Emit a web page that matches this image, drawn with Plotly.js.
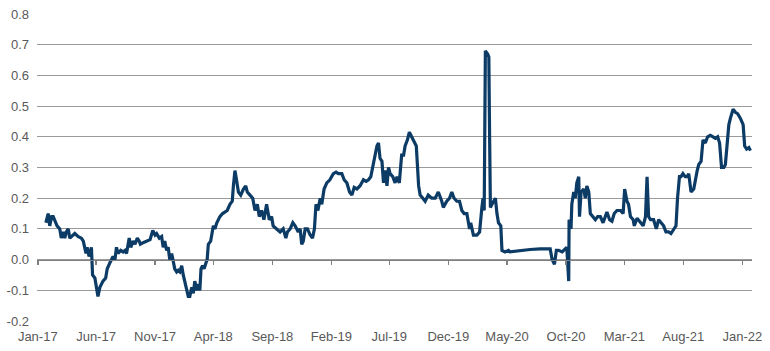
<!DOCTYPE html>
<html>
<head>
<meta charset="utf-8">
<script src="https://cdn.plot.ly/plotly-3.0.1.min.js"></script>
<style>html,body{margin:0;padding:0;background:#fff;}#chart{width:770px;height:351px;}</style>
</head>
<body>
<div id="chart"></div>
<script>
const dates = [
'2017-01-22','2017-01-28','2017-02-01','2017-02-06','2017-02-10','2017-02-14','2017-02-20','2017-02-27','2017-03-03','2017-03-08',
'2017-03-12','2017-03-16','2017-03-21','2017-03-25','2017-04-03','2017-04-07','2017-04-16','2017-04-24','2017-04-29','2017-05-06',
'2017-05-09','2017-05-14','2017-05-20','2017-05-23','2017-05-29','2017-06-02','2017-06-06','2017-06-11','2017-06-15','2017-06-19',
'2017-06-26','2017-06-30','2017-07-07','2017-07-11','2017-07-15','2017-07-20','2017-07-24','2017-07-28','2017-08-04','2017-08-10',
'2017-08-15','2017-08-19','2017-08-26','2017-08-30','2017-09-05','2017-09-10','2017-09-16','2017-09-21','2017-09-24','2017-10-01',
'2017-10-10','2017-10-19','2017-10-26','2017-11-01','2017-11-05','2017-11-12','2017-11-18','2017-11-22','2017-11-26','2017-12-01',
'2017-12-05','2017-12-09','2017-12-14','2017-12-18','2017-12-22','2017-12-27','2017-12-31','2018-01-04','2018-01-09','2018-01-13',
'2018-01-17','2018-01-22','2018-01-26','2018-01-30','2018-02-04','2018-02-08','2018-02-12','2018-02-17','2018-02-21','2018-02-25',
'2018-02-28','2018-03-04','2018-03-08','2018-03-13','2018-03-16','2018-03-19','2018-03-25','2018-04-01','2018-04-05','2018-04-10',
'2018-04-18','2018-04-25','2018-05-01','2018-05-07','2018-05-14','2018-05-20','2018-05-23','2018-05-27','2018-05-31','2018-06-05',
'2018-06-11','2018-06-18','2018-06-24','2018-06-28','2018-07-05','2018-07-12','2018-07-18','2018-07-24','2018-07-29','2018-08-04',
'2018-08-10','2018-08-17','2018-08-24','2018-08-30','2018-09-03','2018-09-12','2018-09-21','2018-09-29','2018-10-06','2018-10-10',
'2018-10-17','2018-10-24','2018-10-30','2018-11-07','2018-11-12','2018-11-16','2018-11-20','2018-11-25','2018-12-01','2018-12-08',
'2018-12-14','2018-12-19','2018-12-23','2018-12-28','2019-01-03','2019-01-07','2019-01-13','2019-01-20','2019-01-28','2019-02-06',
'2019-02-13','2019-02-19','2019-02-28','2019-03-06','2019-03-13','2019-03-20','2019-03-26','2019-04-01','2019-04-08','2019-04-16',
'2019-04-25','2019-05-02','2019-05-08','2019-05-14','2019-05-21','2019-05-25','2019-05-30','2019-06-03','2019-06-07','2019-06-12',
'2019-06-16','2019-06-20','2019-06-25','2019-06-29','2019-07-03','2019-07-10','2019-07-16','2019-07-21','2019-07-27','2019-08-02',
'2019-08-07','2019-08-11','2019-08-17','2019-08-22','2019-08-28','2019-09-03','2019-09-09','2019-09-15','2019-09-19','2019-09-26',
'2019-10-02','2019-10-10','2019-10-19','2019-10-28','2019-11-05','2019-11-14','2019-11-18','2019-11-27','2019-12-04','2019-12-10',
'2019-12-16','2019-12-23','2019-12-30','2020-01-05','2020-01-11','2020-01-18','2020-01-25','2020-01-28','2020-02-04','2020-02-13',
'2020-02-20','2020-02-26','2020-02-29','2020-03-03','2020-03-06','2020-03-12','2020-03-15','2020-03-17','2020-03-19','2020-03-23',
'2020-03-27','2020-04-01','2020-04-05','2020-04-09','2020-04-15','2020-04-18','2020-04-26','2020-05-05','2020-05-09','2020-06-04',
'2020-06-30','2020-07-26','2020-08-21','2020-08-26','2020-09-01','2020-09-06','2020-09-12','2020-09-21','2020-09-29','2020-10-03',
'2020-10-08','2020-10-09','2020-10-14','2020-10-16','2020-10-21','2020-10-25','2020-10-29','2020-11-03','2020-11-05','2020-11-09',
'2020-11-16','2020-11-20','2020-11-24','2020-11-29','2020-12-03','2020-12-10','2020-12-16','2020-12-22','2020-12-29','2021-01-05',
'2021-01-11','2021-01-15','2021-01-22','2021-01-28','2021-02-03','2021-02-10','2021-02-19','2021-02-26','2021-03-02','2021-03-08',
'2021-03-12','2021-03-17','2021-03-24','2021-03-27','2021-04-03','2021-04-12','2021-04-19','2021-04-25','2021-04-29','2021-05-03',
'2021-05-08','2021-05-16','2021-05-23','2021-05-29','2021-06-04','2021-06-11','2021-06-17','2021-06-24','2021-06-30','2021-07-07',
'2021-07-13','2021-07-17','2021-07-22','2021-07-26','2021-07-31','2021-08-06','2021-08-11','2021-08-15','2021-08-21','2021-08-28',
'2021-09-02','2021-09-06','2021-09-10','2021-09-16','2021-09-21','2021-09-27','2021-10-03','2021-10-10','2021-10-17','2021-10-23',
'2021-10-29','2021-11-03','2021-11-08','2021-11-14','2021-11-18','2021-11-23','2021-11-27','2021-12-01','2021-12-08','2021-12-14',
'2021-12-20','2021-12-27','2022-01-03','2022-01-07','2022-01-12','2022-01-18','2022-01-22'
];
const values = [
0.12,0.15,0.11,0.14,0.14,0.13,0.11,0.10,0.07,0.09,
0.07,0.09,0.10,0.07,0.08,0.085,0.075,0.07,0.06,0.02,
0.04,0.01,0.04,-0.05,-0.06,-0.09,-0.12,-0.09,-0.08,-0.07,
-0.06,-0.03,-0.01,0.00,0.01,0.00,0.04,0.02,0.03,0.025,
0.03,0.02,0.07,0.04,0.06,0.05,0.07,0.06,0.05,0.055,
0.06,0.065,0.095,0.08,0.085,0.07,0.075,0.04,0.06,0.03,
0.04,0.00,0.02,-0.01,-0.03,-0.04,-0.035,-0.04,-0.02,-0.05,
-0.07,-0.10,-0.12,-0.12,-0.09,-0.11,-0.07,-0.10,-0.08,-0.10,
-0.03,-0.02,-0.03,-0.01,0.00,0.05,0.06,0.11,0.10,0.12,
0.14,0.15,0.155,0.16,0.18,0.19,0.24,0.29,0.26,0.22,
0.21,0.23,0.24,0.22,0.21,0.20,0.16,0.18,0.14,0.16,
0.13,0.18,0.13,0.14,0.11,0.10,0.09,0.10,0.07,0.09,
0.10,0.12,0.11,0.09,0.10,0.05,0.06,0.10,0.10,0.08,
0.07,0.10,0.18,0.16,0.20,0.18,0.23,0.25,0.26,0.28,
0.285,0.28,0.28,0.26,0.25,0.22,0.21,0.235,0.23,0.24,
0.26,0.255,0.26,0.27,0.31,0.33,0.37,0.38,0.33,0.32,
0.25,0.29,0.24,0.30,0.28,0.27,0.25,0.27,0.25,0.34,
0.34,0.37,0.39,0.415,0.40,0.39,0.37,0.24,0.21,0.20,
0.19,0.21,0.20,0.20,0.22,0.19,0.17,0.19,0.20,0.22,
0.20,0.19,0.19,0.16,0.15,0.15,0.10,0.12,0.08,0.08,
0.09,0.17,0.20,0.16,0.68,0.67,0.66,0.40,0.17,0.18,
0.19,0.20,0.15,0.12,0.11,0.03,0.025,0.03,0.025,0.03,
0.033,0.035,0.035,0.00,-0.015,0.03,0.03,0.025,0.035,0.04,
-0.07,0.13,0.10,0.18,0.22,0.20,0.25,0.27,0.14,0.22,
0.23,0.20,0.24,0.22,0.15,0.14,0.13,0.14,0.14,0.12,
0.14,0.155,0.13,0.125,0.15,0.16,0.16,0.15,0.23,0.19,
0.18,0.14,0.13,0.11,0.135,0.12,0.11,0.14,0.27,0.14,
0.13,0.13,0.10,0.13,0.12,0.11,0.09,0.09,0.085,0.10,
0.11,0.20,0.27,0.27,0.28,0.27,0.27,0.28,0.22,0.23,
0.27,0.29,0.31,0.32,0.39,0.38,0.40,0.405,0.40,0.395,
0.40,0.38,0.30,0.30,0.31,0.37,0.44,0.46,0.49,0.48,
0.475,0.46,0.44,0.37,0.36,0.365,0.355
];
const xTickDates = ['2017-01-01','2017-06-01','2017-11-01','2018-04-01','2018-09-01','2019-02-01','2019-07-01','2019-12-01','2020-05-01','2020-10-01','2021-03-01','2021-08-01','2022-01-01'];
const xTickLabels = ['Jan-17','Jun-17','Nov-17','Apr-18','Sep-18','Feb-19','Jul-19','Dec-19','May-20','Oct-20','Mar-21','Aug-21','Jan-22'];
const yTickValues = [-0.2,-0.1,0,0.1,0.2,0.3,0.4,0.5,0.6,0.7,0.8];
const yTickLabels = ['-0.2','-0.1','0.0','0.1','0.2','0.3','0.4','0.5','0.6','0.7','0.8'];

const xRange = ['2016-12-30','2022-01-26'];
const font = {family: 'Liberation Sans, Arial, sans-serif', size: 13, color: '#595959'};

const traces = [{
  x: dates, y: values, type: 'scatter', mode: 'lines',
  line: {color: '#0c3b66', width: 3.2},
  hoverinfo: 'x+y', showlegend: false
}];

const layout = {
  width: 770, height: 351,
  margin: {l: 37, r: 18, t: 14, b: 30},
  paper_bgcolor: '#ffffff', plot_bgcolor: '#ffffff',
  font: font,
  showlegend: false,
  xaxis: {
    type: 'date', range: xRange,
    tickvals: xTickDates, ticktext: xTickLabels,
    showgrid: false, zeroline: false, showline: false, ticks: '',
    tickfont: font, ticklabelstandoff: 6
  },
  xaxis2: {
    type: 'date', range: xRange, overlaying: 'x', matches: 'x',
    anchor: 'free', position: 0.2, side: 'bottom',
    tickvals: xTickDates, showticklabels: false,
    ticks: 'outside', ticklen: 4, tickwidth: 1.5, tickcolor: '#7f7f7f',
    showline: true, linecolor: '#7f7f7f', linewidth: 1.6,
    showgrid: false, zeroline: false
  },
  yaxis: {
    range: [-0.2, 0.8], tickvals: yTickValues, ticktext: yTickLabels,
    showgrid: true, gridcolor: '#9a9a9a', gridwidth: 1,
    zeroline: false, showline: false, ticks: '',
    tickfont: font, ticklabelstandoff: 7
  }
};

traces.push({x: [], y: [], xaxis: 'x2', yaxis: 'y', type: 'scatter', mode: 'lines', showlegend: false, hoverinfo: 'skip'});

Plotly.newPlot('chart', traces, layout, {displayModeBar: false, staticPlot: true});
</script>
</body>
</html>
